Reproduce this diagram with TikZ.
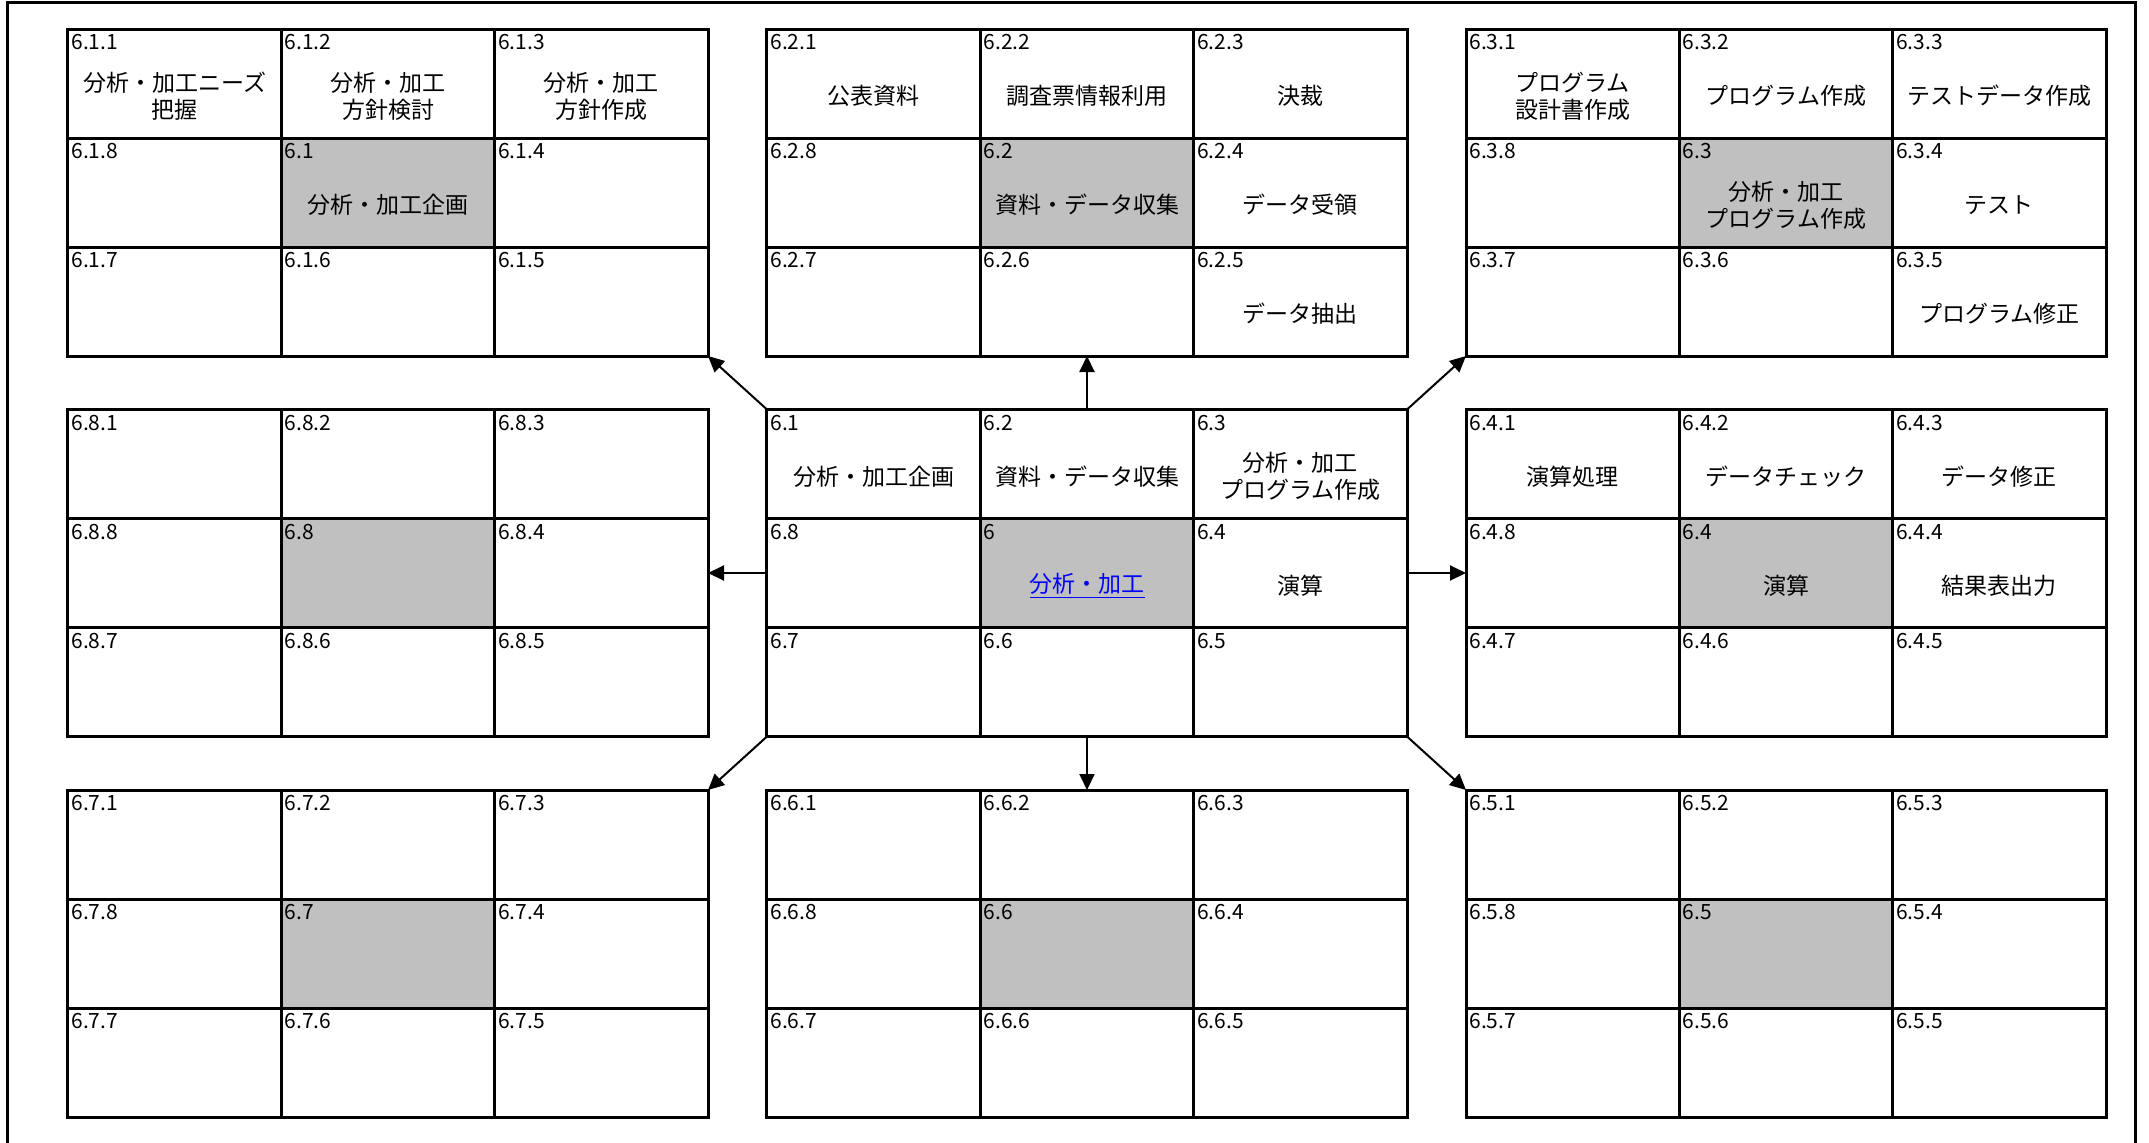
\documentclass[tikz,border=0pt]{standalone}
\usepackage{fontspec}
\setmainfont{Noto Sans CJK JP}
\usetikzlibrary{positioning}
\usetikzlibrary{arrows.meta}
\definecolor{hubgray}{HTML}{C0C0C0}
\definecolor{linkblue}{HTML}{0000FF}
\def\mycellw{106.67pt}
\def\mycellh{54.5pt}
\tikzset{
semithick, % frame and grid set their own width
>={Triangle[length=8pt,width=7.5pt]},
my cell/.style={draw,line width=1.5pt,minimum width=\mycellw,minimum height=\mycellh,inner sep=0pt,outer sep=0pt},
my hub/.style={my cell,fill=hubgray},
my num/.style={anchor=north west,inner xsep=1.5pt,inner ysep=2.5pt,font=\fontsize{10.5}{12}\selectfont},
my text/.style={align=center,yshift=-6.25pt,inner sep=0pt,font=\fontsize{11.5}{13.5}\selectfont},
my link/.style={my text,text=linkblue},
my arrow/.style={->,line width=1pt},
mandala/.style={x=0.5pt,y=-0.5pt}
}

\begin{document}
\begin{tikzpicture}[mandala]
\useasboundingbox (0,0) rectangle (2149,1142);
\draw[line width=1.5pt] (7,2) rectangle (2135,1160);

% each block: gray hub cell, then the eight cells around it
\foreach \blk/\bx/\by in {0/1087/573, 1/388/192.5, 2/1087/192.5, 3/1786/192.5,
                          4/1786/573, 5/1786/953.5, 6/1087/953.5, 7/388/953.5, 8/388/573}{
  \ifnum\blk=0 \def\hublbl{6}\else\def\hublbl{6.\blk}\fi
  \node[my hub,label={[my num]north west:\hublbl}] (c\blk0) at (\bx,\by) {};
  \foreach \cel/\an/\at in {1/south east/north west, 2/south/north, 3/south west/north east,
                            4/west/east, 5/north west/south east, 6/north/south,
                            7/north east/south west, 8/east/west}{
    \ifnum\blk=0 \def\lbl{6.\cel}\else\def\lbl{6.\blk.\cel}\fi
    \node[my cell,anchor=\an,label={[my num]north west:\lbl}] (c\blk\cel) at (c\blk0.\at) {};
  }
}

% cell texts
\foreach \n/\t in {11/{分析・加工ニーズ\\把握}, 12/{分析・加工\\方針検討}, 13/{分析・加工\\方針作成},
                   10/分析・加工企画,
                   21/公表資料, 22/調査票情報利用, 23/決裁, 20/資料・データ収集,
                   24/データ受領, 25/データ抽出,
                   31/{プログラム\\設計書作成}, 32/プログラム作成, 33/テストデータ作成,
                   30/{分析・加工\\プログラム作成}, 34/テスト, 35/プログラム修正,
                   41/演算処理, 42/データチェック, 43/データ修正, 40/演算, 44/結果表出力,
                   01/分析・加工企画, 02/資料・データ収集, 03/{分析・加工\\プログラム作成}, 04/演算}
  \node[my text] (t\n) at (c\n) {\t};
\node[my link] (t00) at (c00) {\underline{分析・加工}};

% arrows from the centre block out to the eight blocks
\foreach \blk/\opp/\from/\to in {1/5/north west/south east, 2/6/north/south, 3/7/north east/south west,
                                 4/8/east/west, 5/1/south east/north west, 6/2/south/north,
                                 7/3/south west/north east, 8/4/west/east}
  \draw[my arrow] (c0\blk.\from) -- (c\blk\opp.\to);
\end{tikzpicture}
\end{document}
